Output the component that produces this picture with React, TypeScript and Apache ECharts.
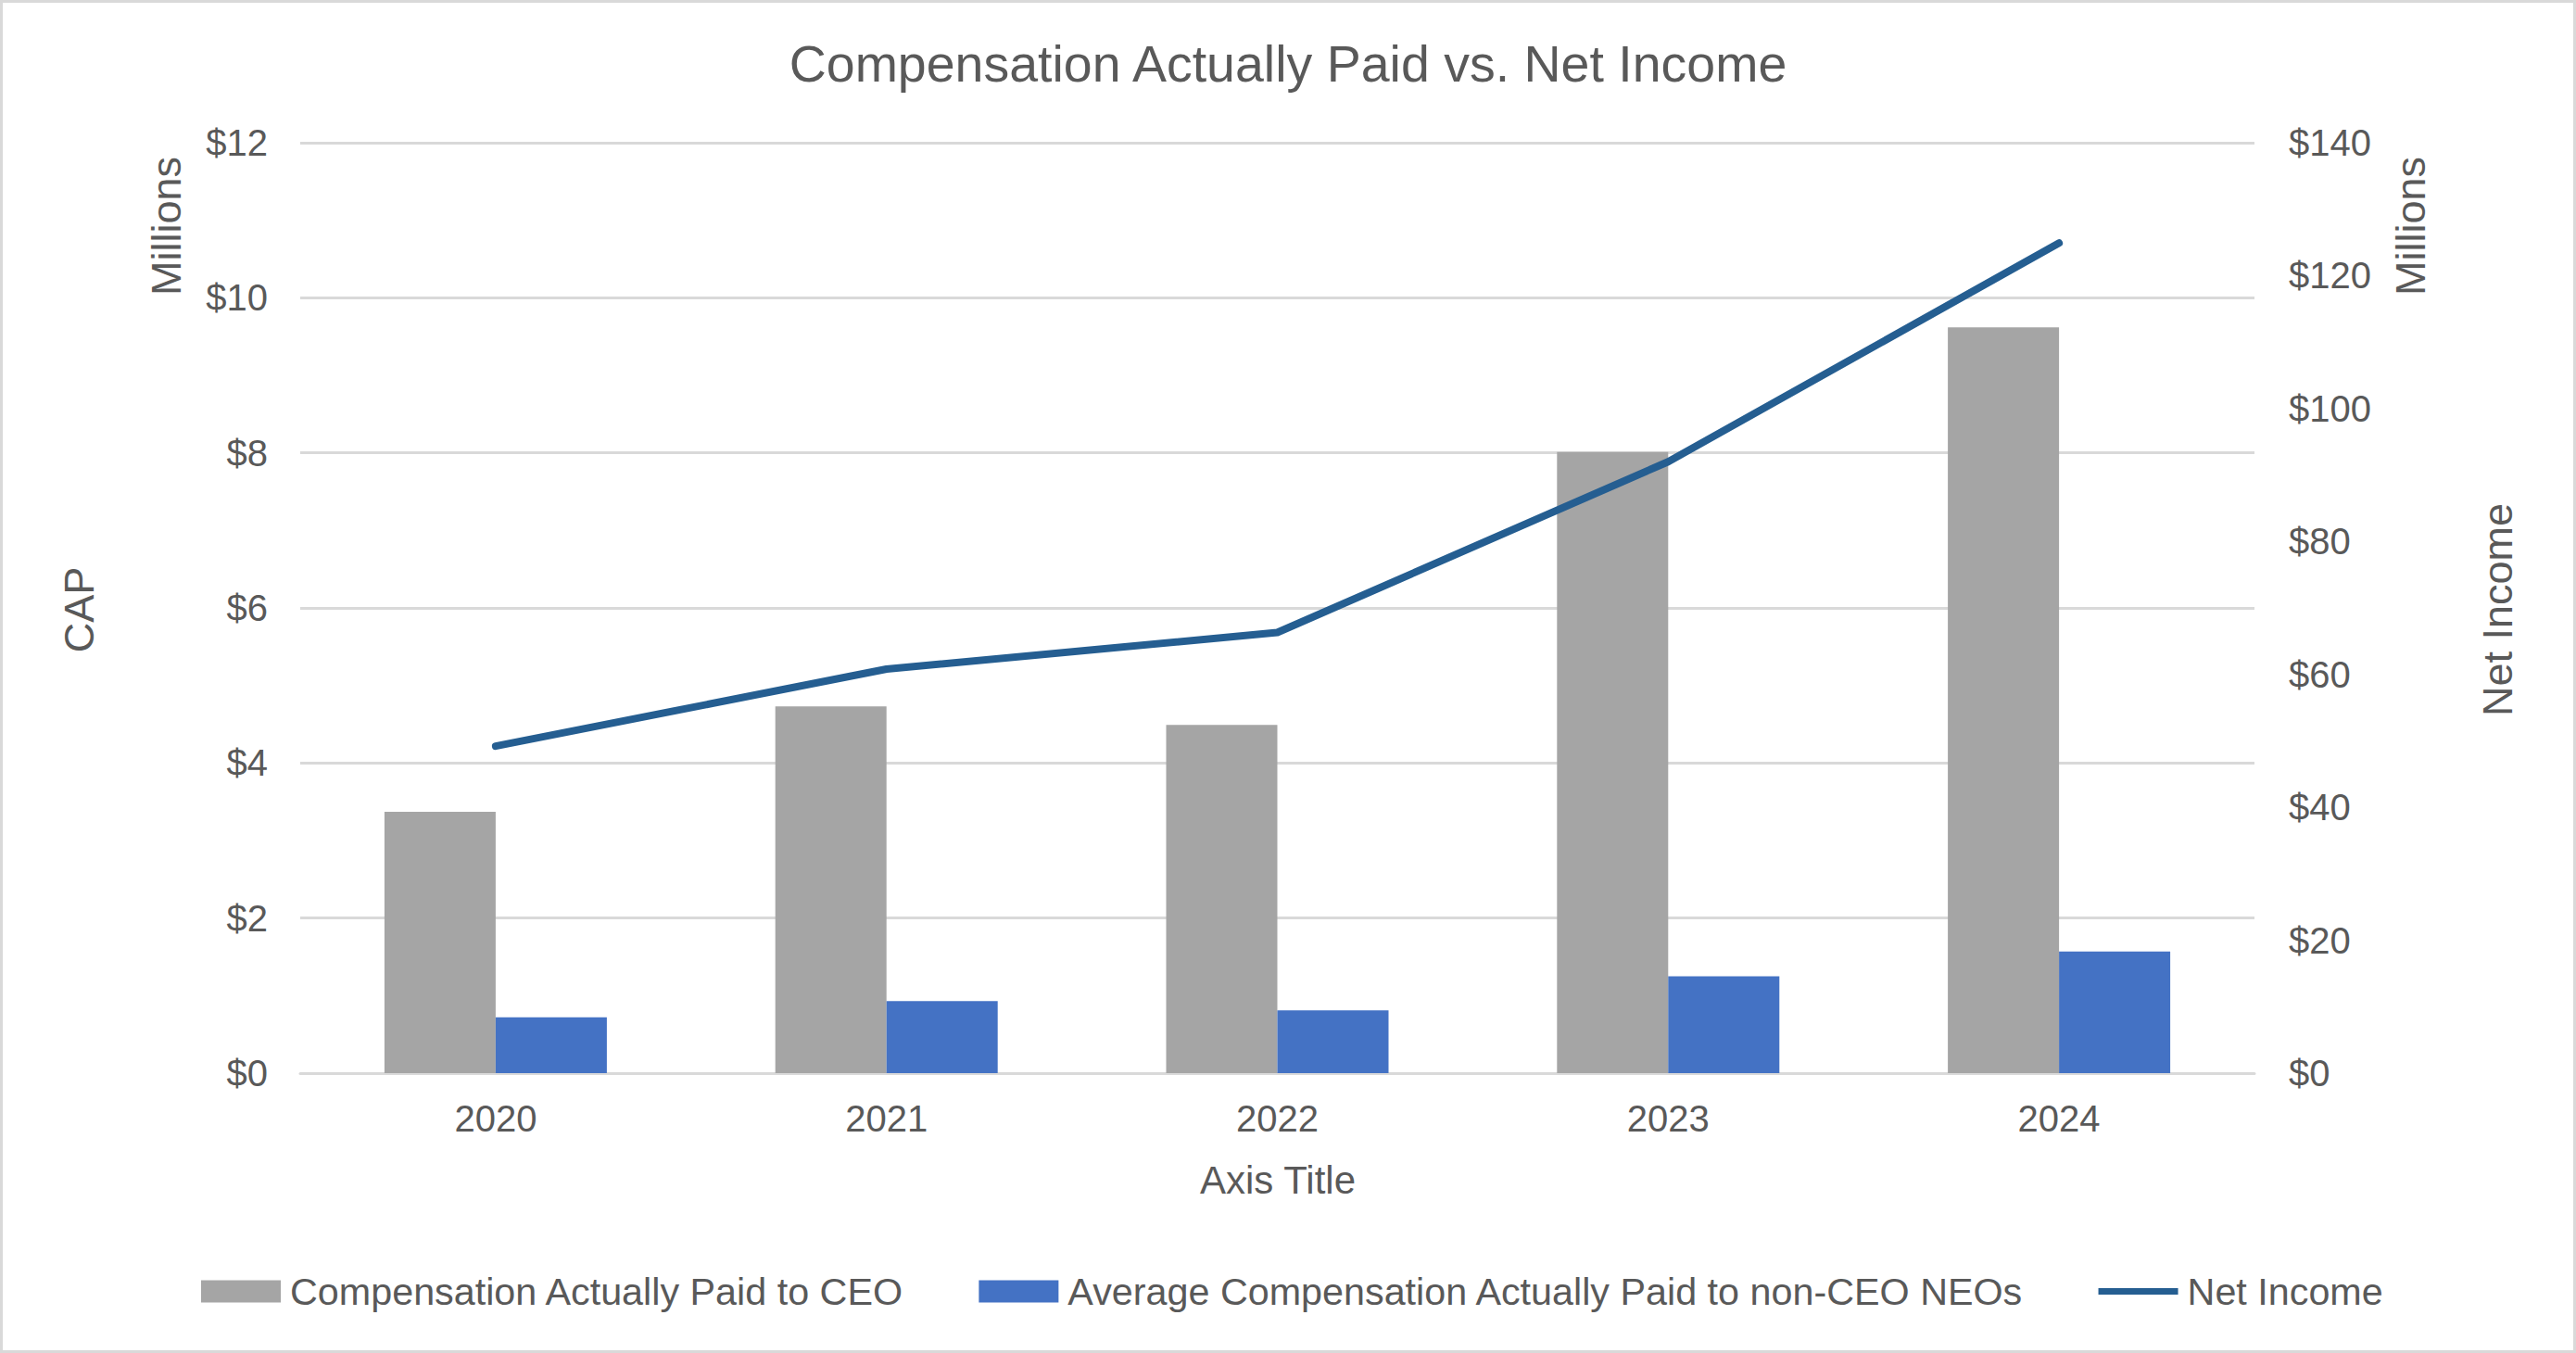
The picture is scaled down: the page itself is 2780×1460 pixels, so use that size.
import React, { useEffect, useRef } from "react";
import * as echarts from "echarts";

const years = ["2020", "2021", "2022", "2023", "2024"];
const capCEO = [3.37, 4.73, 4.49, 8.01, 9.62];
const capNEO = [0.72, 0.93, 0.81, 1.25, 1.57];
const netIncome = [49.2, 60.8, 66.3, 92.0, 124.9];

const seriesNames = [
  "Compensation Actually Paid to CEO",
  "Average Compensation Actually Paid to non-CEO NEOs",
  "Net Income",
];

const TXT = "#595959";
const FONT = "'Liberation Sans', Arial, sans-serif";

export default function App() {
  const ref = useRef<HTMLDivElement>(null);
  useEffect(() => {
    if (!ref.current) return;
    const chart = echarts.init(ref.current, null, { renderer: "svg" });
    chart.setOption({
      animation: false,
      backgroundColor: "#ffffff",
      textStyle: { fontFamily: FONT },
      title: {
        text: "Compensation Actually Paid vs. Net Income",
        left: "center",
        top: 36,
        textStyle: { color: TXT, fontSize: 55.5, fontWeight: "normal", fontFamily: FONT },
      },
      grid: { left: 324, right: 347, top: 154, bottom: 302, containLabel: false },
      legend: {
        left: 212,
        top: 1368,
        itemWidth: 86,
        itemHeight: 24,
        itemGap: 80,
        textStyle: { color: TXT, fontSize: 41.3, fontFamily: FONT, padding: [0, 0, 0, 5] },
        data: [
          { name: seriesNames[0], icon: "rect" },
          { name: seriesNames[1], icon: "rect" },
          { name: seriesNames[2], icon: "path://M0,0L100,0L100,8L0,8Z" },
        ],
      },
      xAxis: {
        type: "category",
        data: years,
        axisLine: { show: true, lineStyle: { color: "#d9d9d9", width: 3 } },
        axisTick: { show: false },
        axisLabel: { color: TXT, fontSize: 40, margin: 29, fontFamily: FONT },
      },
      yAxis: [
        {
          type: "value",
          min: 0,
          max: 12,
          interval: 2,
          axisLine: { show: false },
          axisTick: { show: false },
          splitLine: { lineStyle: { color: "#d9d9d9", width: 3 } },
          axisLabel: {
            color: TXT,
            fontSize: 40,
            margin: 35,
            fontFamily: FONT,
            formatter: (v: number) => "$" + v,
          },
        },
        {
          type: "value",
          min: 0,
          max: 140,
          interval: 20,
          axisLine: { show: false },
          axisTick: { show: false },
          splitLine: { show: false },
          axisLabel: {
            color: TXT,
            fontSize: 40,
            margin: 37,
            fontFamily: FONT,
            formatter: (v: number) => "$" + v,
          },
        },
      ],
      series: [
        {
          name: seriesNames[0],
          type: "bar",
          data: capCEO,
          yAxisIndex: 0,
          barWidth: 120,
          barGap: "0%",
          itemStyle: { color: "#a5a5a5" },
        },
        {
          name: seriesNames[1],
          type: "bar",
          data: capNEO,
          yAxisIndex: 0,
          barWidth: 120,
          barGap: "0%",
          itemStyle: { color: "#4472c4" },
        },
        {
          name: seriesNames[2],
          type: "line",
          data: netIncome,
          yAxisIndex: 1,
          symbol: "none",
          lineStyle: { color: "#255e91", width: 8, cap: "round", join: "round" },
          itemStyle: { color: "#255e91" },
        },
      ],
      graphic: [
        {
          type: "rect",
          shape: { x: 1.5, y: 1.5, width: 2777, height: 1457 },
          style: { fill: "none", stroke: "#d9d9d9", lineWidth: 3 },
          silent: true,
        },
        {
          type: "text",
          x: 1379,
          y: 1273,
          style: { text: "Axis Title", fill: TXT, fontSize: 42, fontFamily: FONT, align: "center", verticalAlign: "middle" },
        },
        {
          type: "text",
          x: 85,
          y: 658,
          rotation: Math.PI / 2,
          style: { text: "CAP", fill: TXT, fontSize: 45, fontFamily: FONT, align: "center", verticalAlign: "middle" },
        },
        {
          type: "text",
          x: 179,
          y: 244,
          rotation: Math.PI / 2,
          style: { text: "Millions", fill: TXT, fontSize: 45, fontFamily: FONT, align: "center", verticalAlign: "middle" },
        },
        {
          type: "text",
          x: 2601,
          y: 244,
          rotation: Math.PI / 2,
          style: { text: "Millions", fill: TXT, fontSize: 45, fontFamily: FONT, align: "center", verticalAlign: "middle" },
        },
        {
          type: "text",
          x: 2695,
          y: 658,
          rotation: Math.PI / 2,
          style: { text: "Net Income", fill: TXT, fontSize: 45, fontFamily: FONT, align: "center", verticalAlign: "middle" },
        },
      ],
    });
    return () => chart.dispose();
  }, []);
  return (
    <div
      ref={ref}
      style={{ position: "fixed", left: 0, top: 0, width: 2780, height: 1460 }}
    />
  );
}
